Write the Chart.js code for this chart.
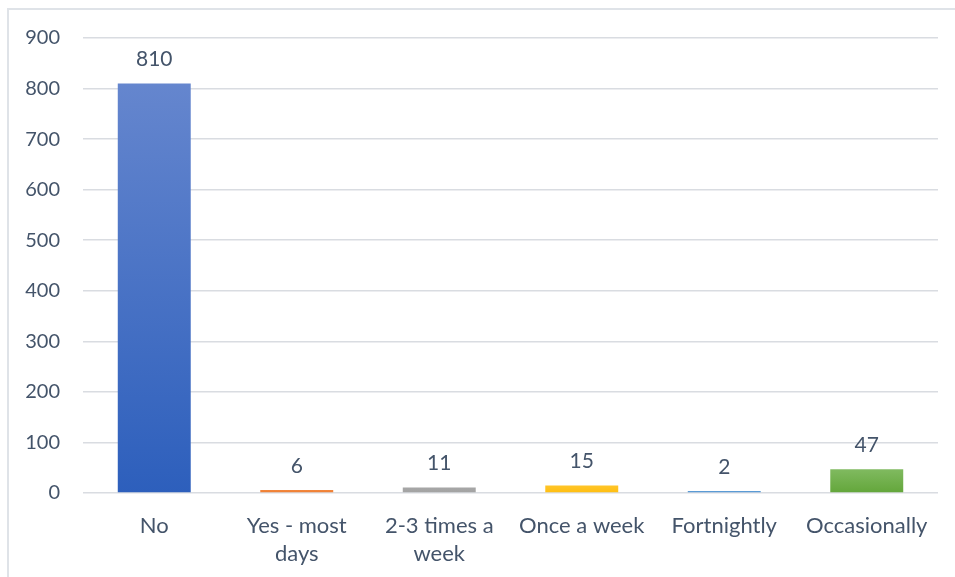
<!DOCTYPE html>
<html>
<head>
<meta charset="utf-8">
<script src="https://cdn.jsdelivr.net/npm/chart.js@4"></script>
<style>
  html, body { margin: 0; padding: 0; background: #fff; overflow: hidden; }
  #wrap { position: relative; width: 955px; height: 577px; }
  #frame { position: absolute; left: 7px; top: 8px; width: 1000px; height: 700px; border: 2px solid #dfe3e8; }
  #chart { position: absolute; left: 0; top: 0; }
</style>
</head>
<body>
<div id="wrap">
  <div id="frame"></div>
  <canvas id="chart" width="955" height="577"></canvas>
</div>
<script>
// 데이터
var categories = ["No", ["Yes - most", "days"], ["2-3 times a", "week"], "Once a week", "Fortnightly", "Occasionally"];
var counts = [810, 6, 11, 15, 2, 47];
var yTicks = [0, 100, 200, 300, 400, 500, 600, 700, 800, 900];

// 막대 색 (위, 아래)
var barTop = ["#6586ce", "#f2883e", "#a6a6a6", "#ffc52a", "#5b9bd5", "#80ba60"];
var barBottom = ["#2d5fbc", "#ee7b2f", "#a3a3a3", "#ffbe0f", "#4a8fd6", "#63a63a"];

var textColor = "#44546a";
var fontFamily = "Lato, 'Open Sans', sans-serif";

function barColor(ctx) {
  var chart = ctx.chart;
  var i = ctx.dataIndex;
  if (!chart.chartArea || !chart.scales.y) return barBottom[i];
  var y = chart.scales.y;
  var g = chart.ctx.createLinearGradient(0, y.getPixelForValue(counts[i]), 0, y.getPixelForValue(0));
  g.addColorStop(0, barTop[i]);
  g.addColorStop(1, barBottom[i]);
  return g;
}

var valueLabels = {
  id: "valueLabels",
  afterDatasetsDraw: function (chart) {
    var c = chart.ctx;
    var meta = chart.getDatasetMeta(0);
    c.save();
    c.font = "21px " + fontFamily;
    c.fillStyle = textColor;
    c.textAlign = "center";
    c.textBaseline = "middle";
    meta.data.forEach(function (bar, i) {
      c.fillText(String(counts[i]), bar.x, bar.y - 24);
    });
    c.restore();
  }
};

new Chart(document.getElementById("chart").getContext("2d"), {
  type: "bar",
  data: {
    labels: categories,
    datasets: [
      {
        data: counts,
        backgroundColor: barColor,
        borderWidth: 0,
        minBarLength: 2,
        categoryPercentage: 1,
        barPercentage: 0.512,
      },
    ],
  },
  options: {
    responsive: false,
    animation: false,
    layout: { padding: { left: 0, top: 38, right: 17, bottom: 0 } },
    plugins: { legend: { display: false }, tooltip: { enabled: false } },
    scales: {
      x: {
        grid: { display: false },
        border: { display: false },
        ticks: {
          color: textColor,
          font: { family: fontFamily, size: 22, lineHeight: 1.27 },
          padding: 11,
          maxRotation: 0,
          autoSkip: false,
        },
        afterFit: function (s) { s.height = 84; },
      },
      y: {
        min: 0,
        max: 900,
        afterBuildTicks: function (s) {
          s.ticks = yTicks.map(function (v) { return { value: v }; });
        },
        grid: { color: "#d9dce1", lineWidth: 1.5, drawTicks: false },
        border: { display: false },
        ticks: {
          color: textColor,
          font: { family: fontFamily, size: 20 },
          padding: 23,
        },
        afterFit: function (s) { s.width = 83; },
      },
    },
  },
  plugins: [valueLabels],
});
</script>
</body>
</html>
